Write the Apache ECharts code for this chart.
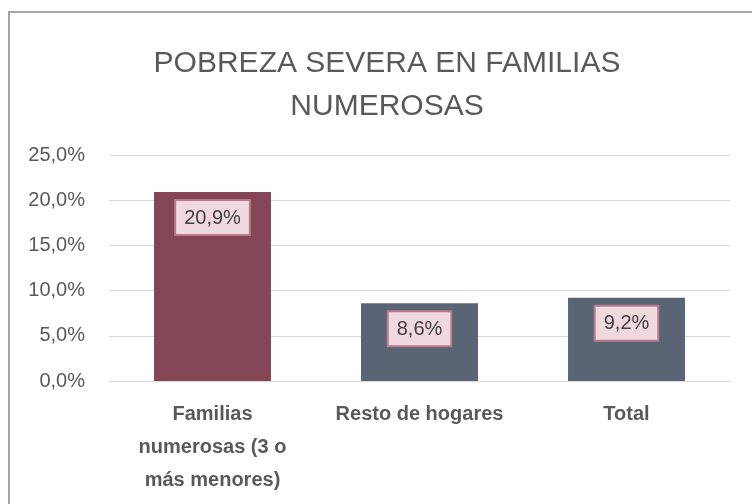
<!DOCTYPE html>
<html>
<head>
<meta charset="utf-8">
<script src="https://cdn.jsdelivr.net/npm/echarts@6/dist/echarts.min.js"></script>
<style>
body{margin:0;background:#fff;}
#chart{width:752px;height:504px;}
</style>
</head>
<body>
<div id="chart"></div>
<script>
// etiquetas del eje x, con los saltos de linea del original
var categories = ['Familias\nnumerosas (3 o\nmás menores)', 'Resto de hogares', 'Total'];
var values = [20.9, 8.6, 9.2];
var barColors = ['#844655', '#596475', '#596475'];
var yTicks = [0, 5, 25];

function initChart(){
	var myChart = echarts.init(document.getElementById('chart'));
	var data = [];
	for (var i = 0; i < values.length; i++) {
		data.push({value: values[i], itemStyle: {color: barColors[i]}});
	}
	var option = {
		animation: false,
		title: {
			text: 'POBREZA SEVERA EN FAMILIAS\nNUMEROSAS',
			left: 382,
			top: 37,
			textAlign: 'center',
			textStyle: {
				fontFamily: 'Liberation Sans',
				fontWeight: 'normal',
				fontSize: 30,
				lineHeight: 43,
				color: '#595959'
			}
		},
		graphic: [{
			type: 'polyline',
			shape: {points: [[9, 504], [9, 12], [752, 12]]},
			style: {stroke: '#a6a6a6', lineWidth: 2, fill: null}
		}],
		grid: {left: 109, right: 22, top: 155, bottom: 123, outerBoundsMode: 'none', containLabel: false},
		xAxis: {
			type: 'category',
			data: categories,
			axisLine: {lineStyle: {color: '#d9d9d9'}},
			axisTick: {show: false},
			axisLabel: {
				margin: 17,
				interval: 0,
				lineHeight: 33,
				fontFamily: 'Liberation Sans',
				fontWeight: 'bold',
				fontSize: 20,
				color: '#595959'
			}
		},
		yAxis: {
			type: 'value',
			min: yTicks[0],
			max: yTicks[2],
			interval: yTicks[1],
			axisLine: {show: false},
			axisTick: {show: false},
			splitLine: {lineStyle: {color: '#d9d9d9'}},
			axisLabel: {
				margin: 24,
				fontFamily: 'Liberation Sans',
				fontSize: 20,
				color: '#595959',
				formatter: function(v){ return v.toFixed(1).replace('.', ',') + '%'; }
			}
		},
		series: [{
			type: 'bar',
			data: data,
			barWidth: '56.5%',
			label: {
				show: true,
				position: 'insideTop',
				distance: 9,
				fontFamily: 'Liberation Sans',
				fontSize: 20,
				color: '#404040',
				backgroundColor: '#efd9de',
				borderColor: '#b97b8c',
				borderWidth: 2,
				padding: [7, 8, 6, 8],
				formatter: function(p){ return p.value.toFixed(1).replace('.', ',') + '%'; }
			}
		}]
	};
	myChart.setOption(option);
}
initChart();
</script>
</body>
</html>
